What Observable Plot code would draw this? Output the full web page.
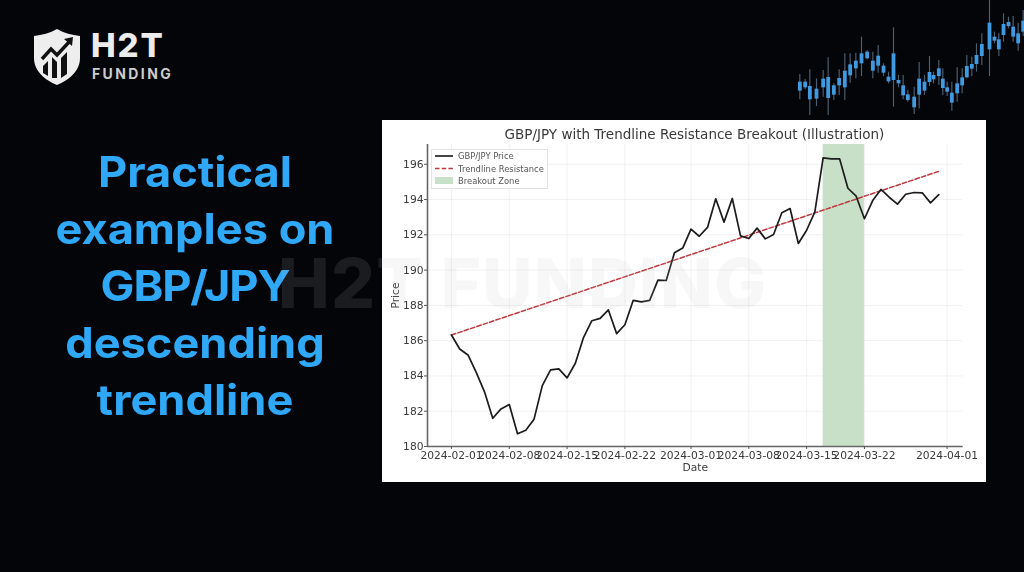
<!DOCTYPE html>
<html>
<head>
<meta charset="utf-8">
<script src="https://cdn.jsdelivr.net/npm/d3@7"></script>
<script src="https://cdn.jsdelivr.net/npm/@observablehq/plot@0.6"></script>
<style>
html,body{margin:0;padding:0;width:1024px;height:572px;overflow:hidden;background:#030508;}
.abs{position:absolute;}
#panel{left:382px;top:120px;width:604px;height:362px;background:#fff;}
#chart{left:382px;top:120px;width:604px;height:362px;filter:blur(.35px);}
#chart svg,#candles svg{display:block;background:transparent;}
#candles{left:790px;top:0;width:234px;height:115px;filter:blur(.5px);}
#ctitle{left:382px;width:625px;top:126px;text-align:center;font:13.5px "DejaVu Sans";color:#3a3a3a;filter:blur(.3px);}
#headline{left:20px;width:350px;top:143px;text-align:center;font:700 42px/57px "Inter";color:#2fa8f8;transform:scaleX(1.075);transform-origin:175px 0;}
#legend{left:431px;top:149px;width:116.5px;height:40px;box-sizing:border-box;border:1px solid #e2e2e2;background:rgba(255,255,255,.85);font:8.4px "DejaVu Sans";color:#555;filter:blur(.3px);}
#legend div.row{position:absolute;left:26px;white-space:nowrap;line-height:10px;}
#legend svg{position:absolute;left:2px;}
#watermark{left:278px;top:238px;font:800 69px/90px "Inter";letter-spacing:1.3px;color:rgba(192,192,192,.125);white-space:nowrap;pointer-events:none;}
#h2t{left:91px;top:26px;font:800 33px/38px "Inter";color:#ececec;letter-spacing:1.9px;}
#funding{left:92px;top:65px;font:700 14px/17px "Inter";color:#cccccc;letter-spacing:2.4px;}
#shield{left:33px;top:28px;}
</style>
</head>
<body>
<div id="panel" class="abs"></div>
<div id="chart" class="abs"></div>
<div id="ctitle" class="abs">GBP/JPY with Trendline Resistance Breakout (Illustration)</div>
<div id="legend" class="abs">
  <svg width="20" height="38"><line x1="1" x2="19" y1="6" y2="6" stroke="#222" stroke-width="1.7"/><line x1="1" x2="19" y1="18.5" y2="18.5" stroke="#bb3a40" stroke-width="1.5" stroke-dasharray="4.5 2.2"/><rect x="1" y="27" width="18" height="7" fill="#c9e0c8"/></svg>
  <div class="row" style="top:1px">GBP/JPY Price</div>
  <div class="row" style="top:13.5px">Trendline Resistance</div>
  <div class="row" style="top:26px">Breakout Zone</div>
</div>
<div id="headline" class="abs">Practical<br>examples on<br><span style="letter-spacing:-1px">GBP/JPY</span><br>descending<br>trendline</div>
<div id="watermark" class="abs">H2T FUNDING</div>
<div id="candles" class="abs"></div>
<svg id="shield" class="abs" width="48" height="58" viewBox="0 0 48 58">
  <path d="M24 1 C31 5 39 7 47 8 L47 30 C47 43 36 52 24 57 C12 52 1 43 1 30 L1 8 C9 7 17 5 24 1 Z" fill="#eeeeee"/>
  <path d="M9 31 L18 21 L24 27 L37 13" fill="none" stroke="#111" stroke-width="3.4"/>
  <path d="M31 11 L40 9 L39 18 Z" fill="#111"/>
  <path d="M10 45 V38 L15 33 V48 Z M19 50 V29 L24 34 V50 Z M28 50 V30 L34 24 V46 Z" fill="#111"/>
</svg>
<div id="h2t" class="abs">H2T</div>
<div id="funding" class="abs">FUNDING</div>

<script>
// ---- chart data ----
const firstDay = "2024-02-01";
const prices = [186.32,185.53,185.19,184.2,183.1,181.6,182.13,182.38,180.72,180.92,181.55,183.45,184.34,184.4,183.89,184.72,186.19,187.13,187.26,187.74,186.4,186.9,188.28,188.2,188.28,189.43,189.41,190.98,191.25,192.32,191.92,192.42,194.04,192.72,194.06,191.94,191.79,192.38,191.77,192.02,193.25,193.49,191.51,192.26,193.3,196.36,196.3,196.3,194.64,194.19,192.91,193.94,194.57,194.13,193.74,194.3,194.4,194.38,193.81,194.28];
const trendDates = ["2024-02-01","2024-03-31"];
const trendValues = [186.32,195.6];
const zoneDates = ["2024-03-17","2024-03-22"];
const xTickLabels = ["2024-02-01","2024-02-08","2024-02-15","2024-02-22","2024-03-01","2024-03-08","2024-03-15","2024-03-22","2024-04-01"];
const yTicks = [180,182,184,186,188,190,192,194,196];
const xStart = "2024-01-29T02:24Z", xEnd = "2024-04-02T23:00Z";
const yBottom = 180, yTop = 197.12;

// ---- decorative candlesticks (levels, top-down) ----
const candleX = [28,44,58,78,98,113,130,146,163,179,196,213,230,247,263,279,294,309,324,338,352,371,386,402,417,429,445,457,470,484,500,515,529,544,558,574,597,612,625,639,654,668,683,698];
const wickTop = [222,236,208,235,210,172,250,208,160,160,158,110,150,155,135,190,215,82,225,225,270,260,186,225,168,215,180,205,245,245,202,205,165,170,130,100,0,95,100,40,50,48,68,30];
const wickBottom = [298,268,345,318,290,345,300,285,300,248,235,228,178,235,218,228,250,320,262,298,305,342,325,285,258,250,255,285,288,332,305,280,235,228,215,195,228,130,168,125,85,125,152,108];
const bodyTop = [245,245,258,266,236,231,256,234,212,193,182,160,155,182,167,197,230,160,240,256,283,290,236,245,216,225,205,236,262,278,250,232,198,192,165,132,68,110,118,72,66,80,100,62];
const bodyBottom = [272,262,298,296,262,294,284,256,262,226,205,190,175,212,197,218,244,240,250,286,300,322,284,272,246,238,228,264,275,308,280,256,232,206,192,168,148,122,148,105,78,110,130,95];

const parse = d3.utcParse("%Y-%m-%d");
const dayStart = parse(firstDay);
const series = prices.map((p,i)=>({date:d3.utcDay.offset(dayStart,i),price:p}));
const trend = trendDates.map((d,i)=>({date:parse(d),value:trendValues[i]}));
const xTicks = xTickLabels.map(parse);

const fmt = d3.utcFormat("%Y-%m-%d");
const chart = Plot.plot({
  width:604,height:362,
  marginLeft:45,marginRight:23.3,marginTop:24,marginBottom:36,
  style:{background:"transparent",fontFamily:"DejaVu Sans",color:"#333"},
  x:{type:"utc",domain:[new Date(xStart),new Date(xEnd)]},
  y:{domain:[yBottom,yTop]},
  marks:[
    Plot.gridX(xTicks,{stroke:"#000",strokeOpacity:.06,strokeWidth:1}),
    Plot.gridY(yTicks,{stroke:"#000",strokeOpacity:.06,strokeWidth:1}),
    Plot.rectY([{x1:parse(zoneDates[0]),x2:parse(zoneDates[1])}],{x1:"x1",x2:"x2",y1:yBottom,y2:yTop,fill:"#c9e0c8"}),
    Plot.line(trend,{x:"date",y:"value",stroke:"#bb3a40",strokeWidth:1.5,strokeDasharray:"4.5,2.2"}),
    Plot.line(series,{x:"date",y:"price",stroke:"#1c1c1c",strokeWidth:1.7,curve:"linear"}),
    Plot.ruleX([new Date(xStart)],{stroke:"#666",strokeWidth:1.6}),
    Plot.ruleY([yBottom],{stroke:"#666",strokeWidth:1.6}),
    Plot.axisX({ticks:xTicks,tickFormat:fmt,tickSize:3,tickPadding:2,fontSize:10.7,stroke:"#555",fill:"#3a3a3a",label:"Date",labelAnchor:"center",labelArrow:"none",labelOffset:24}),
    Plot.axisY({ticks:yTicks,tickFormat:d=>String(d),tickSize:3,tickPadding:1,fontSize:10.7,stroke:"#555",fill:"#3a3a3a",label:"Price",labelAnchor:"center",labelArrow:"none",labelOffset:36})
  ]
});
document.getElementById("chart").append(chart);

const candles = candleX.map((x,i)=>({x,wt:wickTop[i],wb:wickBottom[i],bt:bodyTop[i],bb:bodyBottom[i]}));
const candlePlot = Plot.plot({
  width:234,height:115,margin:0,
  style:{background:"transparent"},
  x:{domain:[0,702],range:[0,234],axis:null},
  y:{domain:[0,345],range:[0,115],axis:null},
  marks:[
    Plot.ruleX(candles,{x:"x",y1:"wt",y2:"wb",stroke:"#4c5e70",strokeWidth:1.2}),
    Plot.ruleX(candles,{x:"x",y1:"bt",y2:"bb",stroke:"#3f9ae0",strokeWidth:3.8})
  ]
});
document.getElementById("candles").append(candlePlot);
</script>
</body>
</html>
